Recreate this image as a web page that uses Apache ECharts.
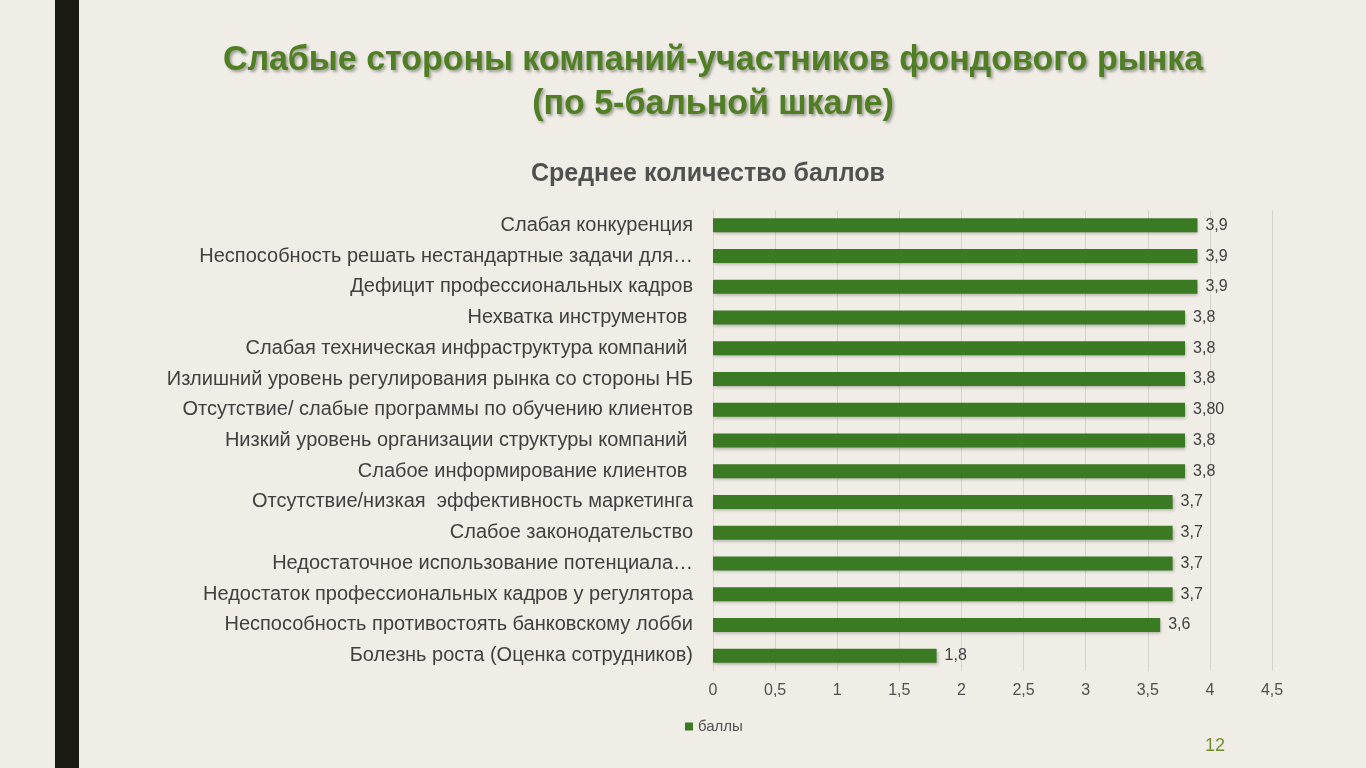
<!DOCTYPE html>
<html><head><meta charset="utf-8">
<script src="https://cdn.jsdelivr.net/npm/echarts@6/dist/echarts.min.js"></script>
<style>html,body{margin:0;padding:0;background:#f0ede6}#c{width:1366px;height:768px}</style>
</head><body><div id="c"></div>
<script>
const categories = [
 "Слабая конкуренция",
 "Неспособность решать нестандартные задачи для…",
 "Дефицит профессиональных кадров",
 "Нехватка инструментов ",
 "Слабая техническая инфраструктура компаний ",
 "Излишний уровень регулирования рынка со стороны НБ",
 "Отсутствие/ слабые программы по обучению клиентов",
 "Низкий уровень организации структуры компаний ",
 "Слабое информирование клиентов ",
 "Отсутствие/низкая  эффективность маркетинга",
 "Слабое законодательство",
 "Недостаточное использование потенциала…",
 "Недостаток профессиональных кадров у регулятора",
 "Неспособность противостоять банковскому лобби",
 "Болезнь роста (Оценка сотрудников)"
];
const values = [3.9,3.9,3.9,3.8,3.8,3.8,3.8,3.8,3.8,3.7,3.7,3.7,3.7,3.6,1.8];
const valueLabels = ["3,9","3,9","3,9","3,8","3,8","3,8","3,80","3,8","3,8","3,7","3,7","3,7","3,7","3,6","1,8"];
const ticks = [0,0.5,1,1.5,2,2.5,3,3.5,4,4.5];
const chart = echarts.init(document.getElementById('c'));
chart.setOption({
 backgroundColor:'#f0ede6',
 graphic:[
  {type:'rect',shape:{x:55,y:0,width:24,height:768},style:{fill:'#1a1a12'}},
  {type:'text',x:713,y:38,style:{text:'Слабые стороны компаний-участников фондового рынка\n(по 5-бальной шкале)',
    font:'bold 35px "Liberation Sans Narrow", "Liberation Sans", Arial',fill:'#4f7f22',align:'center',lineHeight:44,
    textShadowColor:'rgba(0,0,0,0.35)',textShadowBlur:3,textShadowOffsetX:2,textShadowOffsetY:2},scaleX:0.97},
  {type:'text',left:531,top:162,style:{text:'Среднее количество баллов',font:'bold 25px "Liberation Sans", Arial',fill:'#505050'}},
  {type:'text',left:1205,top:737,style:{text:'12',font:'18px "Liberation Sans", Arial',fill:'#6f8f2a'}}
 ],
 legend:{data:['баллы'],left:680,top:714,itemWidth:8,itemHeight:8,icon:'rect',
  textStyle:{color:'#505050',fontSize:15,fontFamily:'Liberation Sans'}},
 grid:{left:713,right:94,top:210,bottom:97,containLabel:false},
 xAxis:{type:'value',min:0,max:4.5,interval:0.5,
  axisLabel:{color:'#505050',fontSize:16,fontFamily:'Liberation Sans',margin:12,formatter:v=>String(v).replace('.',',')},
  splitLine:{lineStyle:{color:'#d6d3cc'}},axisLine:{show:false},axisTick:{show:false}},
 yAxis:{type:'category',inverse:true,data:categories,
  axisLabel:{color:'#404040',fontSize:20,fontFamily:'Liberation Sans',margin:20},
  axisLine:{show:false},axisTick:{show:false}},
 series:[{name:'баллы',type:'bar',data:values,barWidth:14,
  itemStyle:{color:'#3a7a22',shadowColor:'rgba(0,0,0,0.25)',shadowBlur:3,shadowOffsetX:1,shadowOffsetY:2},
  label:{show:true,position:'right',distance:8,color:'#404040',fontSize:16,fontFamily:'Liberation Sans',
   formatter:p=>valueLabels[p.dataIndex]}}]
});
</script></body></html>
